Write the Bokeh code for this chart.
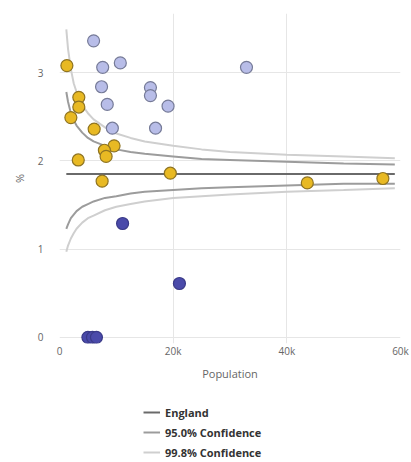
from bokeh.plotting import figure
from bokeh.models import Range1d, Legend, LegendItem
from bokeh.layouts import column
from bokeh.embed import file_html
from bokeh.resources import INLINE

# ---- data ----
# Points above the upper limit (lavender)
high_pop = [6000, 7600, 10700, 7400, 16000, 16000, 8400, 19100, 9300, 16900, 32900]
high_val = [3.36, 3.06, 3.11, 2.84, 2.83, 2.74, 2.64, 2.62, 2.37, 2.37, 3.06]

# Points within limits (gold)
mid_pop = [1300, 3400, 3400, 2000, 6100, 9600, 7900, 8200, 3300, 19500, 7500, 43600, 56900]
mid_val = [3.08, 2.72, 2.61, 2.49, 2.36, 2.17, 2.12, 2.05, 2.01, 1.86, 1.77, 1.75, 1.80]

# Points below the lower limit (dark blue)
low_pop = [11100, 21100, 5000, 5800, 6500]
low_val = [1.29, 0.61, 0.0, 0.0, 0.0]

# Funnel limits read along population
limit_pop = [1200, 1500, 2000, 2500, 3000, 4000, 5000, 6000, 8000, 10000,
             12500, 15000, 20000, 25000, 30000, 40000, 50000, 59000]
upper_95 = [2.78, 2.67, 2.54, 2.46, 2.40, 2.32, 2.26, 2.22, 2.17, 2.13,
            2.10, 2.08, 2.05, 2.02, 2.01, 1.99, 1.97, 1.96]
lower_95 = [1.23, 1.28, 1.35, 1.39, 1.43, 1.48, 1.51, 1.54, 1.58, 1.60,
            1.63, 1.65, 1.67, 1.69, 1.70, 1.72, 1.74, 1.74]
upper_998 = [3.49, 3.27, 3.04, 2.88, 2.78, 2.63, 2.54, 2.47, 2.38, 2.31,
             2.26, 2.22, 2.17, 2.13, 2.10, 2.07, 2.05, 2.03]
lower_998 = [0.97, 1.04, 1.12, 1.18, 1.23, 1.30, 1.35, 1.38, 1.44, 1.48,
             1.51, 1.54, 1.58, 1.60, 1.62, 1.65, 1.67, 1.69]

england_pop = [1200, 59000]
england_val = [1.85, 1.85]

x_ticks = [0, 20000, 40000, 60000]
x_tick_labels = ["0", "20k", "40k", "60k"]
y_ticks = [0, 1, 2, 3]

legend_labels = ["England", "95.0% Confidence", "99.8% Confidence"]

# styles
FONT = "Open Sans"
C_ENG, C_95, C_998 = "#6a6a6a", "#9c9c9c", "#cfcfcf"

# ---- main figure ----
p = figure(width=410, height=386, output_backend="svg", toolbar_location=None,
           x_range=Range1d(0, 60000), y_range=Range1d(-0.07, 3.67),
           min_border_left=59, min_border_right=10, min_border_top=13,
           min_border_bottom=43)
p.outline_line_color = None
p.background_fill_color = "white"

for ax in (p.xaxis[0], p.yaxis[0]):
    ax.axis_line_color = None
    ax.major_tick_line_color = None
    ax.minor_tick_line_color = None
    ax.major_tick_out = 0
    ax.major_tick_in = 0
    ax.major_label_text_font = FONT
    ax.major_label_text_font_size = "10px"
    ax.major_label_text_color = "#666666"
    ax.axis_label_text_font = FONT
    ax.axis_label_text_font_size = "11px"
    ax.axis_label_text_font_style = "normal"
    ax.axis_label_text_color = "#666666"

p.xaxis.ticker = x_ticks
p.xaxis.major_label_overrides = {t: l for t, l in zip(x_ticks, x_tick_labels)}
p.xaxis.major_label_standoff = 0
p.xaxis.axis_label = "Population"
p.xaxis.axis_label_standoff = 5

p.yaxis.ticker = y_ticks
p.yaxis.major_label_standoff = 16
p.yaxis.axis_label = "%"
p.yaxis.axis_label_standoff = 8

p.xgrid.grid_line_color = "#e6e6e6"
p.ygrid.grid_line_color = "#e6e6e6"

# limit lines
p.line(limit_pop, upper_998, line_color=C_998, line_width=2)
p.line(limit_pop, lower_998, line_color=C_998, line_width=2)
p.line(limit_pop, upper_95, line_color=C_95, line_width=2)
p.line(limit_pop, lower_95, line_color=C_95, line_width=2)
p.line(england_pop, england_val, line_color=C_ENG, line_width=2)

# points
p.scatter(high_pop, high_val, size=12, fill_color="#b8bde8", line_color="#767b98", line_width=1.2)
p.scatter(mid_pop, mid_val, size=12, fill_color="#e8b923", line_color="#8f7422", line_width=1.2)
p.scatter(low_pop, low_val, size=12, fill_color="#4a4aaa", line_color="#3a3a88", line_width=1.2)

# ---- legend figure ----
lg = figure(width=410, height=74, output_backend="svg", toolbar_location=None,
            x_range=Range1d(0, 1), y_range=Range1d(0, 1),
            min_border_left=0, min_border_right=0, min_border_top=0,
            min_border_bottom=0)
lg.axis.visible = False
lg.grid.visible = False
lg.outline_line_color = None
nan = float("nan")
le = lg.line([nan, nan], [nan, nan], line_color=C_ENG, line_width=2)
l95 = lg.line([nan, nan], [nan, nan], line_color=C_95, line_width=2)
l998 = lg.line([nan, nan], [nan, nan], line_color=C_998, line_width=2)

legend = Legend(items=[
    LegendItem(label=legend_labels[0], renderers=[le]),
    LegendItem(label=legend_labels[1], renderers=[l95]),
    LegendItem(label=legend_labels[2], renderers=[l998]),
], location=(84, 0), orientation="vertical")
legend.label_text_font = FONT
legend.label_text_font_style = "bold"
legend.label_text_font_size = "11px"
legend.label_text_color = "#333333"
legend.border_line_color = None
legend.background_fill_alpha = 0
legend.glyph_width = 17
legend.glyph_height = 16
legend.label_height = 16
legend.label_standoff = 5
legend.spacing = 4
legend.padding = 0
legend.margin = 0
lg.add_layout(legend, "center")

open("out.html", "w").write(file_html(column(p, lg, spacing=0), INLINE))
